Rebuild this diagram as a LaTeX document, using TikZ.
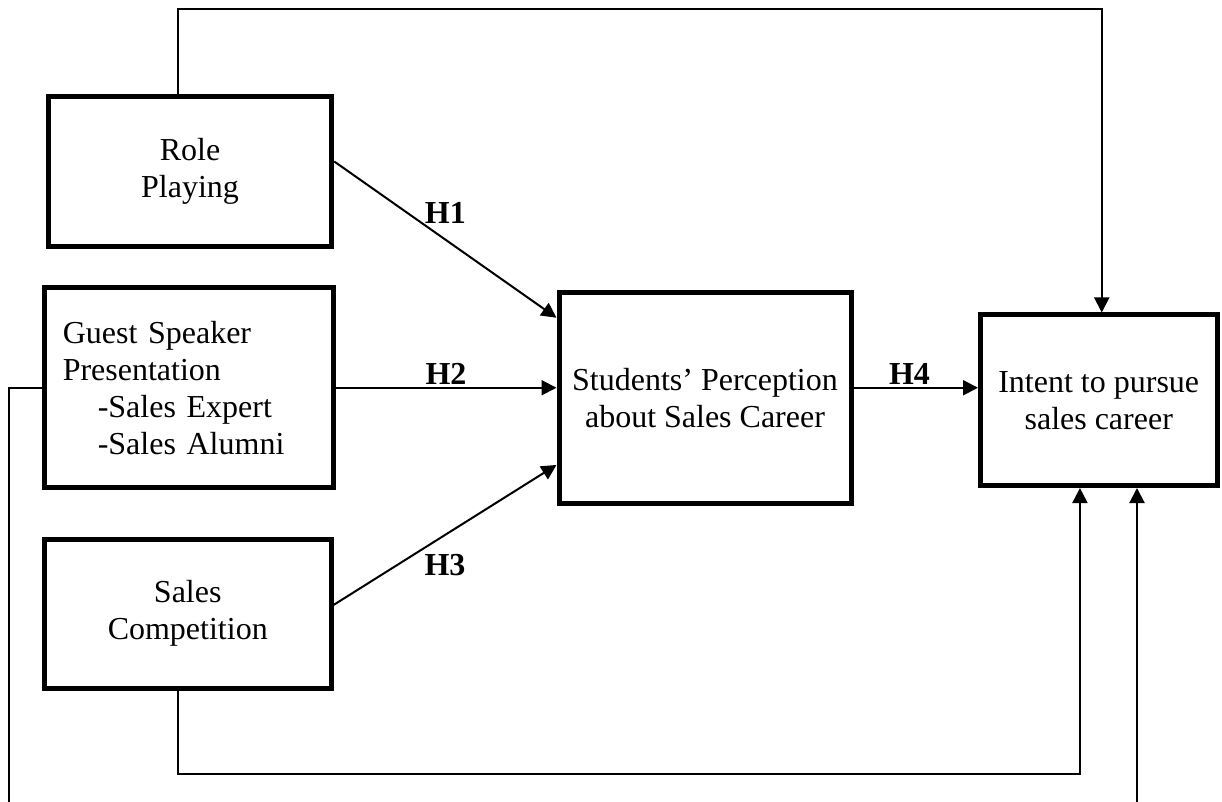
\documentclass[tikz,border=0pt]{standalone}
\usepackage{fontspec}
\setmainfont{Liberation Serif}
\usetikzlibrary{arrows.meta}

\begin{document}
\begin{tikzpicture}[x=0.5pt, y=-0.5pt, line width=1pt,
  every node/.style={font=\fontsize{16}{18.5}\selectfont},
  box/.style={draw, line width=2.5pt, align=center, inner sep=0pt},
  arr/.style={-{Triangle[length=7.5pt,width=7.5pt]}},
  hyp/.style={font=\fontsize{16}{18.5}\selectfont\bfseries}]
\useasboundingbox (0,0) rectangle (1222,802);
% left column
\node[box, minimum width=141.75pt, minimum height=75pt] (P_0_0) at (190,171.5) {Role\\Playing};
\node[box, minimum width=144.25pt, minimum height=99.75pt, text width=126pt, align=left] (P_0_1) at (188.75,387.75)
  {Guest Speaker\\Presentation\\\hspace*{17.5pt}-Sales Expert\\\hspace*{17.5pt}-Sales Alumni};
\node[box, minimum width=143.25pt, minimum height=74.5pt] (P_0_2) at (187.75,613.5) {Sales\\Competition};
% middle and right
\node[box, minimum width=146pt, minimum height=105.25pt] (P_1_1) at (705,397.75) {Students' Perception\\about Sales Career};
\node[box, minimum width=118.25pt, minimum height=85.25pt] (P_2_1) at (1098.75,400.25) {Intent to pursue\\sales career};
\coordinate (P_gl) at (9,802);
\coordinate (P_gr) at (1137,802);
% hypotheses
\draw[arr] ([yshift=5pt]P_0_0.east) -- ([yshift=40pt]P_1_1.west) node[midway, above=4pt, hyp] {H1};
\draw[arr] (P_0_1.east) -- (P_0_1.east -| P_1_1.west) node[midway, above=-2pt, hyp] {H2};
\draw[arr] ([yshift=4.25pt]P_0_2.east) -- ([yshift=-33.6pt]P_1_1.west) node[midway, below=6pt, hyp] {H3};
\draw[arr] (P_1_1.east |- P_0_1.east) -- (P_2_1.west |- P_0_1.east) node[pos=0.45, above=-2pt, hyp] {H4};
% direct paths
\draw[arr] ([xshift=-6pt]P_0_0.north) -- ++(0,-85) -| ([xshift=1.5pt]P_2_1.north);
\draw[arr] ([xshift=-5pt]P_0_2.south) -- ++(0,83.5) -| ([xshift=-9.4pt]P_2_1.south);
\draw (P_0_1.west) -| (P_gl);
\draw[arr] (P_gr) -- (P_gr |- P_2_1.south);
\end{tikzpicture}
\end{document}
